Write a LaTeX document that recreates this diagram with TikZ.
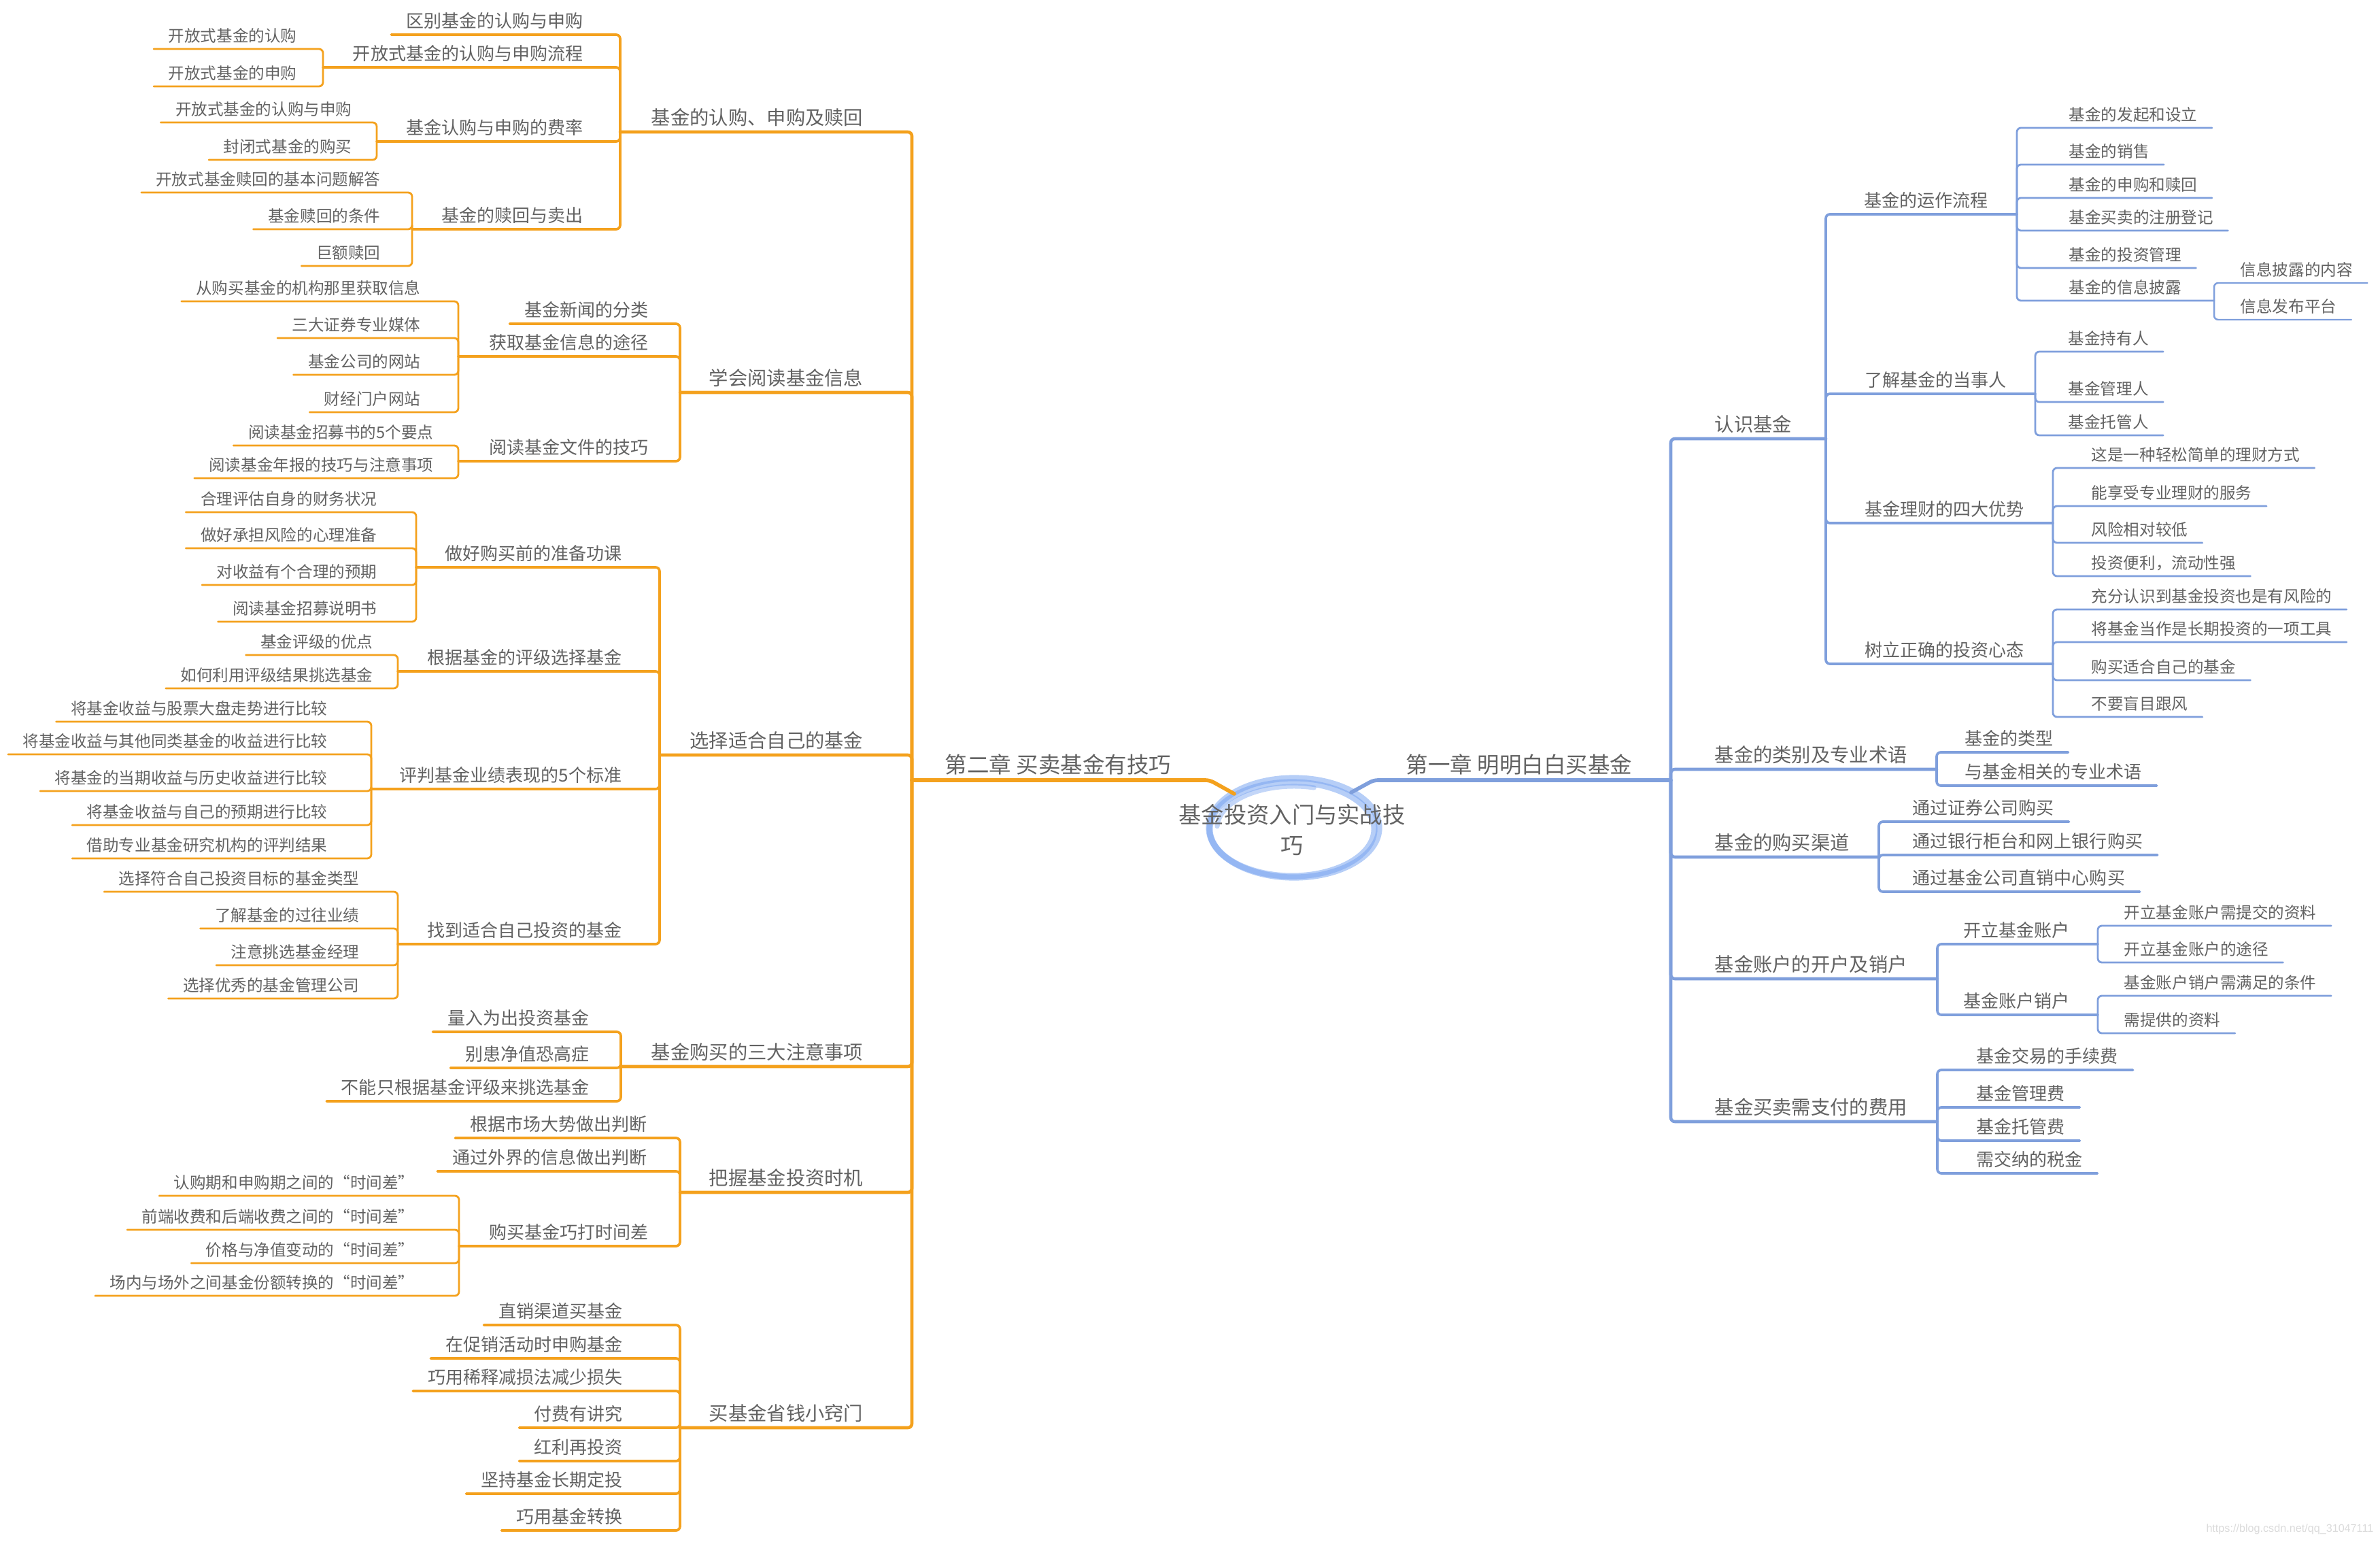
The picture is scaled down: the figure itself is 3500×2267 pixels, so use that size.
\documentclass[tikz,border=0pt]{standalone}
\usepackage{fontspec}
\newfontfamily\cjk{Noto Sans CJK SC}
\newfontfamily\wmfont{Liberation Sans}
\usepackage{tikz}

\definecolor{txt}{HTML}{626262}
\definecolor{mapOrange}{HTML}{F4A11D}
\definecolor{mapBlue}{HTML}{7F9FDC}
\definecolor{ringBlue}{HTML}{7AA5F0}

\begin{document}
\begin{tikzpicture}[
    x=0.01cm, y=-0.01cm,
    every node/.style={
        inner xsep=0.21cm,
        inner ysep=2pt,
        text depth=0.9pt,
        text=txt
    },
    rootnode/.style={align=center, font=\cjk\fontsize{9.47pt}{12.8pt}\selectfont},
    chapter/.style={font=\cjk\fontsize{9.25pt}{11pt}\selectfont},
    branch/.style={font=\cjk\fontsize{8.05pt}{10pt}\selectfont},
    topic/.style={font=\cjk\fontsize{7.4pt}{9pt}\selectfont},
    leaf/.style={font=\cjk\fontsize{6.7pt}{8pt}\selectfont},
    rt/.style={anchor=south west},
    lt/.style={anchor=south east},
    oline/.style={draw=mapOrange, rounded corners=0.06cm, line cap=round},
    bline/.style={draw=mapBlue, rounded corners=0.06cm, line cap=round},
    ring/.style={draw=ringBlue, line width=2.6pt, opacity=0.55, line cap=round},
    w1/.style={line width=1.6pt},
    w2/.style={line width=1.3pt},
    w3/.style={line width=1.05pt},
    w4/.style={line width=0.8pt},
    w5/.style={line width=0.7pt}
]

\useasboundingbox (0,0) rectangle (3500,2267);

\coordinate (ringc) at (1903,1217);
\draw[ring] (ringc) ellipse [x radius=1.25cm, y radius=0.73cm];
\draw[ring] ([shift={(-3,2)}]ringc) ellipse [x radius=1.21cm, y radius=0.69cm];
\draw[ring, line width=2pt, opacity=0.45] ([shift={(75:1.13cm and 0.61cm)}]ringc)
    arc [start angle=75, end angle=178, x radius=1.13cm, y radius=0.61cm];

\node[rootnode] (root) at (1900,1220) {基金投资入门与实战技\\巧};
\coordinate (rootR) at (1987,1165);
\coordinate (rootL) at (1815,1167);

\node[chapter, rt] (ch1) at (2046,1147) {第一章 明明白白买基金};
\node[chapter, rt] (ch2) at (1368,1147) {第二章 买卖基金有技巧};
\coordinate (ch1-j) at (2457,1147);
\coordinate (ch2-j) at (1341,1147);

\node[branch, rt] (know) at (2500,645) {认识基金};
\node[branch, rt] (kind) at (2500,1131) {基金的类别及专业术语};
\node[branch, rt] (buy) at (2500,1260) {基金的购买渠道};
\node[branch, rt] (acct) at (2500,1439) {基金账户的开户及销户};
\node[branch, rt] (cost) at (2500,1649) {基金买卖需支付的费用};
\coordinate (know-j) at (2685,645);
\coordinate (kind-j) at (2848,1131);
\coordinate (buy-j) at (2763,1260);
\coordinate (acct-j) at (2849,1439);
\coordinate (cost-j) at (2849,1649);

\node[topic, rt] (flow) at (2720,315) {基金的运作流程};
\node[topic, rt] (party) at (2721,579) {了解基金的当事人};
\node[topic, rt] (merit) at (2721,769) {基金理财的四大优势};
\node[topic, rt] (mind) at (2721,976) {树立正确的投资心态};
\coordinate (flow-j) at (2966,315);
\coordinate (party-j) at (2993,579);
\coordinate (merit-j) at (3019,769);
\coordinate (mind-j) at (3019,976);

\node[leaf, rt] (flow1) at (3021,188) {基金的发起和设立};
\node[leaf, rt] (flow2) at (3021,242) {基金的销售};
\node[leaf, rt] (flow3) at (3021,291) {基金的申购和赎回};
\node[leaf, rt] (flow4) at (3021,339) {基金买卖的注册登记};
\node[leaf, rt] (flow5) at (3021,394) {基金的投资管理};
\node[leaf, rt] (flow6) at (3021,442) {基金的信息披露};
\coordinate (flow6-j) at (3256,442);
\node[leaf, rt] (info1) at (3273,416) {信息披露的内容};
\node[leaf, rt] (info2) at (3273,470) {信息发布平台};

\node[leaf, rt] (party1) at (3020,517) {基金持有人};
\node[leaf, rt] (party2) at (3020,591) {基金管理人};
\node[leaf, rt] (party3) at (3020,640) {基金托管人};

\node[leaf, rt] (merit1) at (3054,688) {这是一种轻松简单的理财方式};
\node[leaf, rt] (merit2) at (3054,744) {能享受专业理财的服务};
\node[leaf, rt] (merit3) at (3054,798) {风险相对较低};
\node[leaf, rt] (merit4) at (3054,847) {投资便利，流动性强};

\node[leaf, rt] (mind1) at (3054,896) {充分认识到基金投资也是有风险的};
\node[leaf, rt] (mind2) at (3054,944) {将基金当作是长期投资的一项工具};
\node[leaf, rt] (mind3) at (3054,1000) {购买适合自己的基金};
\node[leaf, rt] (mind4) at (3054,1054) {不要盲目跟风};

\node[topic, rt] (kind1) at (2868,1106) {基金的类型};
\node[topic, rt] (kind2) at (2868,1155) {与基金相关的专业术语};

\node[topic, rt] (buy1) at (2791,1208) {通过证券公司购买};
\node[topic, rt] (buy2) at (2791,1257) {通过银行柜台和网上银行购买};
\node[topic, rt] (buy3) at (2791,1311) {通过基金公司直销中心购买};

\node[topic, rt] (open) at (2866,1388) {开立基金账户};
\node[topic, rt] (close) at (2866,1492) {基金账户销户};
\coordinate (open-j) at (3085,1388);
\coordinate (close-j) at (3085,1492);
\node[leaf, rt] (open1) at (3102,1361) {开立基金账户需提交的资料};
\node[leaf, rt] (open2) at (3102,1415) {开立基金账户的途径};
\node[leaf, rt] (close1) at (3102,1464) {基金账户销户需满足的条件};
\node[leaf, rt] (close2) at (3102,1519) {需提供的资料};

\node[topic, rt] (cost1) at (2885,1573) {基金交易的手续费};
\node[topic, rt] (cost2) at (2885,1628) {基金管理费};
\node[topic, rt] (cost3) at (2885,1677) {基金托管费};
\node[topic, rt] (cost4) at (2885,1725) {需交纳的税金};

\node[branch, lt] (redeem) at (1291,194) {基金的认购、申购及赎回};
\node[branch, lt] (read) at (1291,577) {学会阅读基金信息};
\node[branch, lt] (choose) at (1291,1110) {选择适合自己的基金};
\node[branch, lt] (tips) at (1291,1568) {基金购买的三大注意事项};
\node[branch, lt] (timing) at (1291,1753) {把握基金投资时机};
\node[branch, lt] (save) at (1291,2099) {买基金省钱小窍门};
\coordinate (redeem-j) at (912,194);
\coordinate (read-j) at (1000,577);
\coordinate (choose-j) at (970,1110);
\coordinate (tips-j) at (913,1568);
\coordinate (timing-j) at (1000,1753);
\coordinate (save-j) at (1000,2099);

\node[topic, lt] (redeem1) at (879,51) {区别基金的认购与申购};
\node[topic, lt] (proc) at (879,99) {开放式基金的认购与申购流程};
\node[topic, lt] (rate) at (879,208) {基金认购与申购的费率};
\node[topic, lt] (sell) at (879,337) {基金的赎回与卖出};
\coordinate (proc-j) at (475,99);
\coordinate (rate-j) at (554,208);
\coordinate (sell-j) at (606,337);
\node[leaf, lt] (proc1) at (458,72) {开放式基金的认购};
\node[leaf, lt] (proc2) at (458,127) {开放式基金的申购};
\node[leaf, lt] (rate1) at (539,180) {开放式基金的认购与申购};
\node[leaf, lt] (rate2) at (539,235) {封闭式基金的购买};
\node[leaf, lt] (sell1) at (581,283) {开放式基金赎回的基本问题解答};
\node[leaf, lt] (sell2) at (581,337) {基金赎回的条件};
\node[leaf, lt] (sell3) at (581,391) {巨额赎回};

\node[topic, lt] (news) at (975,476) {基金新闻的分类};
\node[topic, lt] (way) at (975,524) {获取基金信息的途径};
\node[topic, lt] (doc) at (975,678) {阅读基金文件的技巧};
\coordinate (way-j) at (674,524);
\coordinate (doc-j) at (674,678);
\node[leaf, lt] (way1) at (640,443) {从购买基金的机构那里获取信息};
\node[leaf, lt] (way2) at (640,497) {三大证券专业媒体};
\node[leaf, lt] (way3) at (640,551) {基金公司的网站};
\node[leaf, lt] (way4) at (640,606) {财经门户网站};
\node[leaf, lt] (doc1) at (659,655) {阅读基金招募书的5个要点};
\node[leaf, lt] (doc2) at (659,703) {阅读基金年报的技巧与注意事项};

\node[topic, lt] (prep) at (936,834) {做好购买前的准备功课};
\node[topic, lt] (grade) at (936,987) {根据基金的评级选择基金};
\node[topic, lt] (judge) at (936,1160) {评判基金业绩表现的5个标准};
\node[topic, lt] (find) at (936,1388) {找到适合自己投资的基金};
\coordinate (prep-j) at (612,834);
\coordinate (grade-j) at (585,987);
\coordinate (judge-j) at (546,1160);
\coordinate (find-j) at (585,1388);
\node[leaf, lt] (prep1) at (576,753) {合理评估自身的财务状况};
\node[leaf, lt] (prep2) at (576,806) {做好承担风险的心理准备};
\node[leaf, lt] (prep3) at (576,860) {对收益有个合理的预期};
\node[leaf, lt] (prep4) at (576,914) {阅读基金招募说明书};
\node[leaf, lt] (grade1) at (570,963) {基金评级的优点};
\node[leaf, lt] (grade2) at (570,1012) {如何利用评级结果挑选基金};
\node[leaf, lt] (judge1) at (503,1061) {将基金收益与股票大盘走势进行比较};
\node[leaf, lt] (judge2) at (503,1109) {将基金收益与其他同类基金的收益进行比较};
\node[leaf, lt] (judge3) at (503,1163) {将基金的当期收益与历史收益进行比较};
\node[leaf, lt] (judge4) at (503,1213) {将基金收益与自己的预期进行比较};
\node[leaf, lt] (judge5) at (503,1262) {借助专业基金研究机构的评判结果};
\node[leaf, lt] (find1) at (550,1311) {选择符合自己投资目标的基金类型};
\node[leaf, lt] (find2) at (550,1365) {了解基金的过往业绩};
\node[leaf, lt] (find3) at (550,1419) {注意挑选基金经理};
\node[leaf, lt] (find4) at (550,1468) {选择优秀的基金管理公司};

\node[topic, lt] (tips1) at (888,1517) {量入为出投资基金};
\node[topic, lt] (tips2) at (888,1570) {别患净值恐高症};
\node[topic, lt] (tips3) at (888,1619) {不能只根据基金评级来挑选基金};

\node[topic, lt] (timing1) at (973,1673) {根据市场大势做出判断};
\node[topic, lt] (timing2) at (973,1722) {通过外界的信息做出判断};
\node[topic, lt] (gap) at (975,1832) {购买基金巧打时间差};
\coordinate (gap-j) at (675,1832);
\node[leaf, lt] (gap1) at (631,1758) {认购期和申购期之间的“时间差”};
\node[leaf, lt] (gap2) at (631,1808) {前端收费和后端收费之间的“时间差”};
\node[leaf, lt] (gap3) at (631,1857) {价格与净值变动的“时间差”};
\node[leaf, lt] (gap4) at (631,1905) {场内与场外之间基金份额转换的“时间差”};

\node[topic, lt] (save1) at (937,1948) {直销渠道买基金};
\node[topic, lt] (save2) at (937,1997) {在促销活动时申购基金};
\node[topic, lt] (save3) at (937,2045) {巧用稀释减损法减少损失};
\node[topic, lt] (save4) at (937,2099) {付费有讲究};
\node[topic, lt] (save5) at (937,2148) {红利再投资};
\node[topic, lt] (save6) at (937,2196) {坚持基金长期定投};
\node[topic, lt] (save7) at (937,2250) {巧用基金转换};

\node[anchor=east, inner sep=0, text=gray!28, font=\wmfont\fontsize{4.6pt}{5pt}\selectfont]
    (wmark) at (3491,2248) {https://blog.csdn.net/qq\_31047111};

\draw[bline, w1] (rootR) -- ++(33,-18) -- (ch1-j);
\foreach \c in {know,kind,buy,acct,cost} \draw[bline, w2] (ch1-j) |- (\c-j);
\foreach \c in {flow,party,merit,mind} \draw[bline, w3] (know-j) |- (\c-j);
\foreach \c in {kind1,kind2} \draw[bline, w3] (kind-j) |- (\c.south east);
\foreach \c in {buy1,buy2,buy3} \draw[bline, w3] (buy-j) |- (\c.south east);
\foreach \c in {open,close} \draw[bline, w3] (acct-j) |- (\c-j);
\foreach \c in {cost1,cost2,cost3,cost4} \draw[bline, w3] (cost-j) |- (\c.south east);
\foreach \c in {flow1,flow2,flow3,flow4,flow5} \draw[bline, w4] (flow-j) |- (\c.south east);
\draw[bline, w4] (flow-j) |- (flow6-j);
\foreach \c in {info1,info2} \draw[bline, w5] (flow6-j) |- (\c.south east);
\foreach \c in {party1,party2,party3} \draw[bline, w4] (party-j) |- (\c.south east);
\foreach \c in {merit1,merit2,merit3,merit4} \draw[bline, w4] (merit-j) |- (\c.south east);
\foreach \c in {mind1,mind2,mind3,mind4} \draw[bline, w4] (mind-j) |- (\c.south east);
\foreach \c in {open1,open2} \draw[bline, w4] (open-j) |- (\c.south east);
\foreach \c in {close1,close2} \draw[bline, w4] (close-j) |- (\c.south east);

\draw[oline, w1] (rootL) -- ++(-36,-20) -- (ch2-j);
\foreach \c in {redeem,read,choose,tips,timing,save} \draw[oline, w2] (ch2-j) |- (\c-j);
\draw[oline, w3] (redeem-j) |- (redeem1.south west);
\foreach \c in {proc,rate,sell} \draw[oline, w3] (redeem-j) |- (\c-j);
\foreach \c in {proc1,proc2} \draw[oline, w4] (proc-j) |- (\c.south west);
\foreach \c in {rate1,rate2} \draw[oline, w4] (rate-j) |- (\c.south west);
\foreach \c in {sell1,sell2,sell3} \draw[oline, w4] (sell-j) |- (\c.south west);
\draw[oline, w3] (read-j) |- (news.south west);
\foreach \c in {way,doc} \draw[oline, w3] (read-j) |- (\c-j);
\foreach \c in {way1,way2,way3,way4} \draw[oline, w4] (way-j) |- (\c.south west);
\foreach \c in {doc1,doc2} \draw[oline, w4] (doc-j) |- (\c.south west);
\foreach \c in {prep,grade,judge,find} \draw[oline, w3] (choose-j) |- (\c-j);
\foreach \c in {prep1,prep2,prep3,prep4} \draw[oline, w4] (prep-j) |- (\c.south west);
\foreach \c in {grade1,grade2} \draw[oline, w4] (grade-j) |- (\c.south west);
\foreach \c in {judge1,judge2,judge3,judge4,judge5} \draw[oline, w4] (judge-j) |- (\c.south west);
\foreach \c in {find1,find2,find3,find4} \draw[oline, w4] (find-j) |- (\c.south west);
\foreach \c in {tips1,tips2,tips3} \draw[oline, w3] (tips-j) |- (\c.south west);
\foreach \c in {timing1,timing2} \draw[oline, w3] (timing-j) |- (\c.south west);
\draw[oline, w3] (timing-j) |- (gap-j);
\foreach \c in {gap1,gap2,gap3,gap4} \draw[oline, w4] (gap-j) |- (\c.south west);
\foreach \c in {save1,save2,save3,save4,save5,save6,save7} \draw[oline, w3] (save-j) |- (\c.south west);

\end{tikzpicture}
\end{document}
